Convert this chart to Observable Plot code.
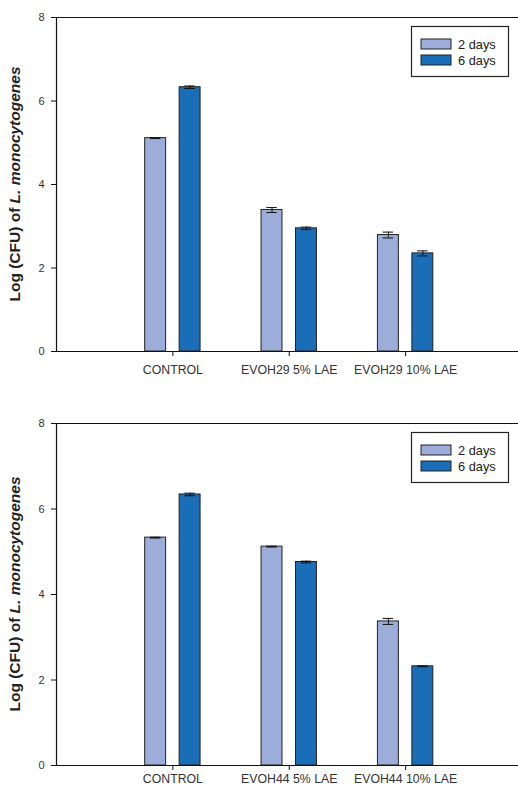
<!DOCTYPE html>
<html><head><meta charset="utf-8">
<script src="https://cdn.jsdelivr.net/npm/d3@7"></script>
<script src="https://cdn.jsdelivr.net/npm/@observablehq/plot@0.6"></script>
<style>
body{margin:0;background:#fff;font-family:"Liberation Sans",Arial,sans-serif}
svg{display:block}
</style>
</head><body><div id="chart"></div>
<script>
const seriesNames = ["2 days", "6 days"];
const seriesColors = ["#9dadd9", "#1a6db7"];
const categoriesTop = ["CONTROL", "EVOH29 5% LAE", "EVOH29 10% LAE"];
const top2 = [5.11, 3.39, 2.79];
const top2err = [0.01, 0.06, 0.07];
const top6 = [6.33, 2.95, 2.35];
const top6err = [0.03, 0.03, 0.06];
const categoriesBottom = ["CONTROL", "EVOH44 5% LAE", "EVOH44 10% LAE"];
const bot2 = [5.33, 5.12, 3.37];
const bot2err = [0.01, 0.01, 0.07];
const bot6 = [6.34, 4.76, 2.32];
const bot6err = [0.03, 0.02, 0.01];
const yTicks = [0, 2, 4, 6, 8];
const yLabelPlain = "Log (CFU) of ";
const yLabelItalic = "L. monocytogenes";

const OFF = 0.148, HW = 0.09, CAP = 0.045;

function panel(categories, v2, e2, v6, e6, height, marginBottom, xPad) {
  const data = [];
  categories.forEach((c, i) => {
    data.push({cat: c, idx: i + 1, s: 0, value: v2[i], err: e2[i]});
    data.push({cat: c, idx: i + 1, s: 1, value: v6[i], err: e6[i]});
  });
  const cx = d => d.idx + (d.s === 0 ? -OFF : OFF);
  const svg = Plot.plot({
    width: 518, height, marginLeft: 56, marginRight: 0, marginTop: 17, marginBottom,
    style: {fontFamily: '"Liberation Sans", Arial, sans-serif', background: "#fff"},
    x: {type: "linear", domain: [0, 3.97], axis: null},
    y: {domain: [0, 8], axis: null},
    marks: [
      Plot.rect(data, {x1: d => cx(d) - HW, x2: d => cx(d) + HW, y1: 0, y2: "value",
        fill: d => seriesColors[d.s], stroke: "#222", strokeWidth: 1}),
      Plot.ruleX(data, {x: cx, y1: d => d.value - d.err, y2: d => d.value + d.err, stroke: "#111", strokeWidth: 1}),
      Plot.ruleY(data, {y: d => d.value + d.err, x1: d => cx(d) - CAP, x2: d => cx(d) + CAP, stroke: "#111", strokeWidth: 1}),
      Plot.ruleY(data, {y: d => d.value - d.err, x1: d => cx(d) - CAP, x2: d => cx(d) + CAP, stroke: "#111", strokeWidth: 1}),
      Plot.ruleY([0, 8], {stroke: "#111", strokeWidth: 1.2}),
      Plot.ruleX([0], {stroke: "#111", strokeWidth: 1.2}),
      Plot.axisY({ticks: yTicks, tickSize: 5, tickPadding: 7, fontSize: 11, color: "#333", stroke: "#111", label: null}),
      Plot.axisX({ticks: [1, 2, 3], tickFormat: i => categories[i - 1], tickSize: 5, tickPadding: xPad,
        fontSize: 12.3, color: "#333", stroke: "#111", label: null})
    ]
  });
  const s = d3.select(svg);
  const plotTop = 17, plotBottom = height - marginBottom;
  const t = s.append("text")
    .attr("transform", `translate(20,${(plotTop + plotBottom) / 2}) rotate(-90)`)
    .attr("text-anchor", "middle")
    .attr("font-size", 15.5).attr("font-weight", "bold").attr("fill", "#222")
    .attr("font-family", '"Liberation Sans", Arial, sans-serif');
  t.append("tspan").text(yLabelPlain);
  t.append("tspan").attr("font-style", "italic").text(yLabelItalic);
  // legend
  const lg = s.append("g").attr("transform", "translate(411.5,26.5)");
  lg.append("rect").attr("width", 97).attr("height", 50).attr("fill", "#fff").attr("stroke", "#222").attr("stroke-width", 1.2);
  seriesNames.forEach((n, i) => {
    lg.append("rect").attr("x", 9.5).attr("y", 12.5 + i * 16).attr("width", 30).attr("height", 10)
      .attr("fill", seriesColors[i]).attr("stroke", "#222").attr("stroke-width", 1);
    lg.append("text").attr("x", 46.5).attr("y", 22 + i * 16).attr("font-size", 12.8).attr("fill", "#222")
      .attr("text-anchor", "start")
      .attr("font-family", '"Liberation Sans", Arial, sans-serif').text(n);
  });
  return svg;
}

const root = document.getElementById("chart");
root.appendChild(panel(categoriesTop, top2, top2err, top6, top6err, 406, 55, 9));
root.appendChild(panel(categoriesBottom, bot2, bot2err, bot6, bot6err, 379, 20, 4));
</script>
</body></html>
